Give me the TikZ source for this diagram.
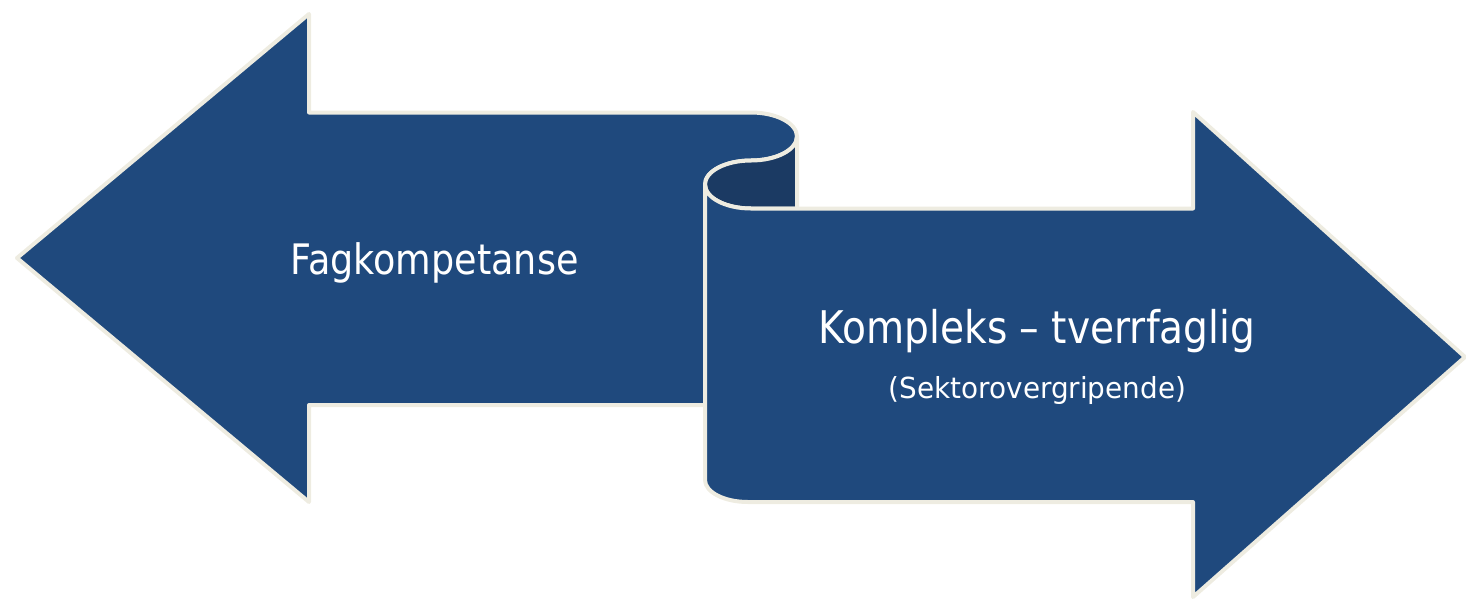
\documentclass[tikz,border=0pt]{standalone}
\usepackage{fontspec}
\usepackage{graphicx}
\setmainfont{DejaVu Sans}
\definecolor{arrowblue}{RGB}{31,73,125}
\definecolor{rollback}{RGB}{27,58,99}
\definecolor{rimcream}{RGB}{238,236,225}
\tikzset{
  arrowshape/.style={fill=arrowblue, draw=rimcream, line width=4pt, line join=round},
  backshape/.style={fill=rollback, draw=rimcream, line width=4pt, line join=round},
  labeltext/.style={text=white, inner sep=0pt, anchor=base}
}
\begin{document}
\begin{tikzpicture}[x=1pt,y=-1pt]
\useasboundingbox (0,0) rectangle (1466,598);
% left arrow (behind)
\draw[arrowshape] (17,258) -- (309,14) -- (309,112.5) -- (751,112.5)
  .. controls (776.4,112.5) and (797,123.25) .. (797,136.5)
  .. controls (797,149.75) and (776.4,160.5) .. (751,160.5)
  .. controls (725.6,160.5) and (705,171.25) .. (705,184.5)
  -- (705,405) -- (309,405) -- (309,502) -- cycle;
% back of roll
\draw[backshape] (797,136.5)
  .. controls (797,149.75) and (776.4,160.5) .. (751,160.5)
  .. controls (725.6,160.5) and (705,171.25) .. (705,184.5)
  .. controls (705,197.75) and (725.6,208.5) .. (751,208.5)
  -- (797,208.5) -- cycle;
% right arrow (front)
\draw[arrowshape] (705,184.5)
  .. controls (705,197.75) and (725.6,208.5) .. (751,208.5)
  -- (1193,208.5) -- (1193,112) -- (1465,357) -- (1193,597) -- (1193,502)
  -- (748,502)
  .. controls (724.3,502) and (705,492.15) .. (705,480) -- cycle;
% labels
\node[labeltext] (fag) at (434.5,274) {\fontsize{42}{50}\selectfont\scalebox{0.87}[1]{Fagkompetanse}};
\node[labeltext] (kompleks) at (1037,343) {\fontsize{45}{52}\selectfont\scalebox{0.87}[1]{Kompleks – tverrfaglig}};
\node[labeltext] (sektor) at (1037.5,398) {\fontsize{29}{35}\selectfont\scalebox{0.96}[1]{(Sektorovergripende)}};
\end{tikzpicture}
\end{document}
